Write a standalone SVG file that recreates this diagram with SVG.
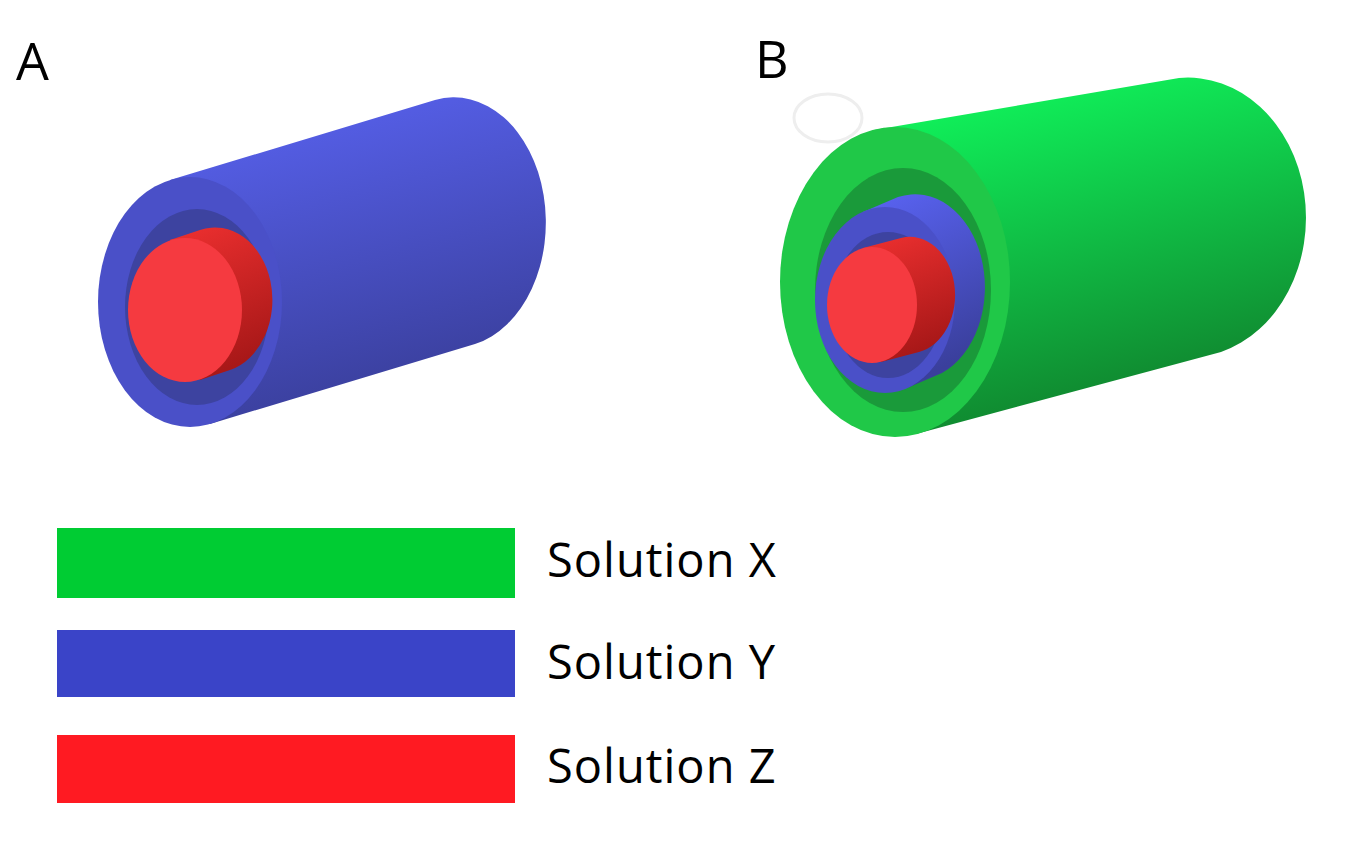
<svg xmlns="http://www.w3.org/2000/svg" width="1348" height="843" viewBox="0 0 1348 843">
<defs>
<linearGradient id="gb" x1="0" y1="0" x2="0.3" y2="1"><stop offset="0" stop-color="#5a64f4"/><stop offset="1" stop-color="#3a3f9c"/></linearGradient>
<linearGradient id="gg" x1="0" y1="0" x2="0.3" y2="1"><stop offset="0" stop-color="#10ff60"/><stop offset="1" stop-color="#10852e"/></linearGradient>
<linearGradient id="gr" x1="0" y1="0" x2="0.3" y2="1"><stop offset="0" stop-color="#ee3030"/><stop offset="1" stop-color="#a81818"/></linearGradient>
</defs>
<style>text{font-family:"Open Sans","Liberation Sans",sans-serif;fill:#000}.lg{font-size:47px;letter-spacing:1px}.hd{font-size:52px}</style>
<rect width="1348" height="843" fill="#fff"/>
<text class="hd" x="16" y="80">A</text>
<text class="hd" x="755" y="78">B</text>
<g id="cylA">
<path d="M170,180 L435,100 A92 125 0 0 1 475,344 L210,424 Z" fill="url(#gb)"/>
<ellipse cx="190" cy="302" rx="92" ry="125" fill="#4a50c8"/>
<ellipse cx="197" cy="307" rx="72" ry="98" fill="#3d43a0"/>
<path d="M170,240 L200,230 A57 72 0 0 1 230,370 L200,380 Z" fill="url(#gr)"/>
<ellipse cx="185" cy="310" rx="57" ry="72" fill="#f53a40"/>
</g>
<g id="cylB">
<path d="M874,130 L1179,78 A118 140 0 0 1 1221,352 L916,434 Z" fill="url(#gg)"/>
<ellipse cx="895" cy="282" rx="115" ry="155" fill="#20c848"/>
<ellipse cx="903" cy="290" rx="88" ry="122" fill="#1a9a3a"/>
<path d="M863,212 L898,197 A70 93 0 0 1 942,373 L907,388 Z" fill="url(#gb)"/>
<ellipse cx="885" cy="300" rx="70" ry="93" fill="#4a50c8"/>
<ellipse cx="888" cy="305" rx="55" ry="73" fill="#3d43a0"/>
<path d="M863,248 L901,238 A45 58 0 0 1 919,352 L881,362 Z" fill="url(#gr)"/>
<ellipse cx="872" cy="305" rx="45" ry="58" fill="#f53a40"/>
<ellipse cx="828" cy="118" rx="34" ry="24" fill="none" stroke="#eeeeee" stroke-width="3"/>
</g>
<g id="legend">
<rect x="57" y="528" width="458" height="70" fill="#00cc33"/>
<rect x="57" y="630" width="458" height="67" fill="#3a44c8"/>
<rect x="57" y="735" width="458" height="68" fill="#ff1a22"/>
<text class="lg" x="547" y="577">Solution X</text>
<text class="lg" x="547" y="679">Solution Y</text>
<text class="lg" x="547" y="783">Solution Z</text>
</g>
</svg>
